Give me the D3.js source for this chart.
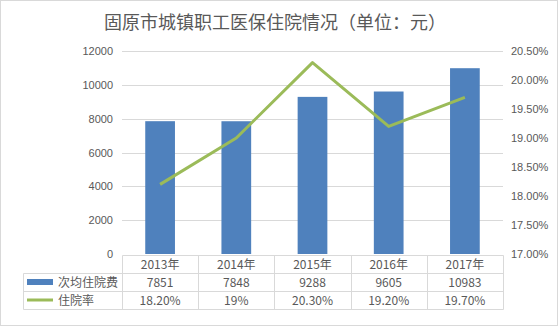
<!DOCTYPE html>
<html><head><meta charset="utf-8">
<script src="https://cdn.jsdelivr.net/npm/d3@7"></script>
<style>
html,body{margin:0;padding:0;background:#fff;}
svg{display:block;font-family:"Noto Sans CJK SC","Noto Sans",sans-serif;}
</style></head>
<body><svg id="c" width="558" height="326"></svg>
<script>
const title = "固原市城镇职工医保住院情况（单位：元）";
const categories = ["2013年","2014年","2015年","2016年","2017年"];
const costName = "次均住院费";
const costValues = [7851, 7848, 9288, 9605, 10983];
const rateName = "住院率";
const rateValues = [18.2, 19.0, 20.3, 19.2, 19.7];
const rateLabels = ["18.20%","19%","20.30%","19.20%","19.70%"];
const leftTicks = [0,2000,4000,6000,8000,10000,12000];
const rightTicks = [17,17.5,18,18.5,19,19.5,20,20.5];

const svg = d3.select("#c");
const W=558,H=326;
const L=122,R=503,T=51,B=254;
const grid="#d9d9d9", txt="#595959", blue="#4f81bd", green="#9bbb59";

svg.append("rect").attr("x",0.5).attr("y",0.5).attr("width",W-1).attr("height",H-1)
  .attr("fill","#fff").attr("stroke",grid);

svg.append("text").attr("x",275).attr("y",29).attr("text-anchor","middle")
  .attr("font-size",18).attr("fill",txt).text(title);

const x = d3.scaleBand().domain(categories).range([L,R]).paddingInner(0.61).paddingOuter(0.305);
const xb = d3.scaleBand().domain(categories).range([L,R]);
const yL = d3.scaleLinear().domain([0,12000]).range([B,T]);
const yR = d3.scaleLinear().domain([17,20.5]).range([B,T]);

// gridlines
svg.append("g").selectAll("line").data(leftTicks.slice(1)).join("line")
  .attr("x1",L).attr("x2",R).attr("y1",d=>Math.round(yL(d))+0.5).attr("y2",d=>Math.round(yL(d))+0.5)
  .attr("stroke",grid).attr("stroke-width",1);

// left axis
const ga = svg.append("g").attr("transform",`translate(${L-9},0)`)
  .call(d3.axisLeft(yL).tickValues(leftTicks).tickSize(0).tickPadding(0).tickFormat(d3.format("d")));
ga.select(".domain").remove();
ga.selectAll("text").attr("font-size",11).attr("fill",txt).attr("font-family","Liberation Sans, DejaVu Sans, sans-serif");

// right axis
const gr = svg.append("g").attr("transform",`translate(${R+8},0)`)
  .call(d3.axisRight(yR).tickValues(rightTicks).tickSize(0).tickPadding(0).tickFormat(d=>d3.format(".2f")(d)+"%"));
gr.select(".domain").remove();
gr.selectAll("text").attr("font-size",11).attr("fill",txt).attr("font-family","Liberation Sans, DejaVu Sans, sans-serif");

// bars
svg.append("g").selectAll("rect").data(costValues).join("rect")
  .attr("x",(d,i)=>x(categories[i])).attr("width",x.bandwidth())
  .attr("y",d=>yL(d)).attr("height",d=>B-yL(d)).attr("fill",blue);

// line
const line = d3.line().x((d,i)=>xb(categories[i])+xb.bandwidth()/2).y(d=>yR(d));
svg.append("path").datum(rateValues).attr("d",line).attr("fill","none")
  .attr("stroke",green).attr("stroke-width",3).attr("stroke-linejoin","round");

// data table
const rows=[255.5,273.5,291.5,309.5];
const tl = 23.5;
const tg = svg.append("g").attr("stroke",grid).attr("stroke-width",1);
tg.append("line").attr("x1",L+0.5).attr("x2",R+0.5).attr("y1",rows[0]).attr("y2",rows[0]);
tg.append("line").attr("x1",tl).attr("x2",R+0.5).attr("y1",rows[1]).attr("y2",rows[1]);
tg.append("line").attr("x1",tl).attr("x2",R+0.5).attr("y1",rows[2]).attr("y2",rows[2]);
tg.append("line").attr("x1",tl).attr("x2",R+0.5).attr("y1",rows[3]).attr("y2",rows[3]);
tg.append("line").attr("x1",tl).attr("x2",tl).attr("y1",rows[1]).attr("y2",rows[3]);
const bounds = categories.map(c=>xb(c)).concat([R]);
tg.selectAll("line.v").data(bounds).join("line").attr("class","v")
  .attr("x1",d=>Math.round(d)+0.5).attr("x2",d=>Math.round(d)+0.5).attr("y1",rows[0]).attr("y2",rows[3]);

const tt = svg.append("g").attr("font-size",12).attr("fill",txt).attr("text-anchor","middle");
const cx = c=>xb(c)+xb.bandwidth()/2;
tt.selectAll("text.y").data(categories).join("text").attr("class","y")
  .attr("x",d=>cx(d)).attr("y",(rows[0]+rows[1])/2+4.5).text(d=>d);
tt.selectAll("text.c").data(costValues).join("text").attr("class","c")
  .attr("x",(d,i)=>cx(categories[i])).attr("y",(rows[1]+rows[2])/2+4.5).text(d=>d);
tt.selectAll("text.r").data(rateLabels).join("text").attr("class","r")
  .attr("x",(d,i)=>cx(categories[i])).attr("y",(rows[2]+rows[3])/2+4.5).text(d=>d);

// legend keys
svg.append("rect").attr("x",27).attr("y",279).attr("width",26).attr("height",6).attr("fill",blue);
svg.append("line").attr("x1",27).attr("x2",53).attr("y1",300).attr("y2",300).attr("stroke",green).attr("stroke-width",3);
svg.append("text").attr("x",58).attr("y",286.5).attr("font-size",12).attr("fill",txt).text(costName);
svg.append("text").attr("x",58).attr("y",304.5).attr("font-size",12).attr("fill",txt).text(rateName);
</script></body></html>
